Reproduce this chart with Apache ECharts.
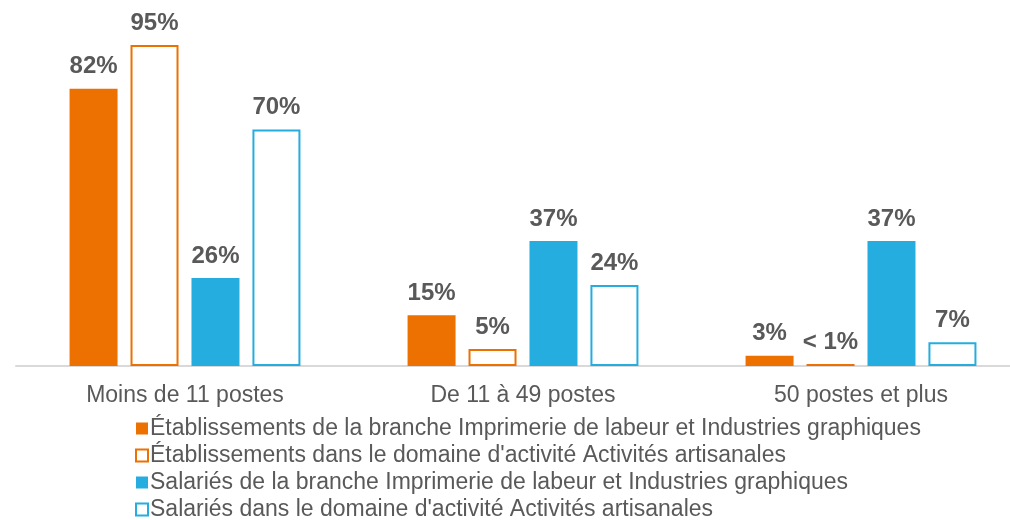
<!DOCTYPE html>
<html>
<head>
<meta charset="utf-8">
<script src="https://cdn.jsdelivr.net/npm/echarts@6/dist/echarts.min.js"></script>
<style>
html,body{margin:0;padding:0;background:#fff;}
#chart{width:1010px;height:520px;}
</style>
</head>
<body>
<div id="chart"></div>
<script>
const categories = ['Moins de 11 postes', 'De 11 à 49 postes', '50 postes et plus'];
const seriesNames = [
  "Établissements de la branche Imprimerie de labeur et Industries graphiques",
  "Établissements dans le domaine d'activité Activités artisanales",
  "Salariés de la branche Imprimerie de labeur et Industries graphiques",
  "Salariés dans le domaine d'activité Activités artisanales"
];
const etabBranche = [82, 15, 3];
const etabDomaine = [95, 5, 0.6];
const salBranche = [26, 37, 37];
const salDomaine = [70, 24, 7];
const etabBrancheLabels = ['82%', '15%', '3%'];
const etabDomaineLabels = ['95%', '5%', '< 1%'];
const salBrancheLabels = ['26%', '37%', '37%'];
const salDomaineLabels = ['70%', '24%', '7%'];

const ORANGE = '#ED7100';
const BLUE = '#25ADE0';
const TXT = '#595959';
const FONT = 'Liberation Sans, Arial, sans-serif';

function mk(name, data, labels, color, filled) {
  return {
    name: name,
    type: 'bar',
    data: data,
    barWidth: 48,
    barGap: '27%',
    itemStyle: filled ? { color: color } : { color: '#fff', borderColor: color, borderWidth: 2 },
    label: {
      show: true,
      position: 'top',
      distance: 10,
      formatter: p => labels[p.dataIndex],
      fontFamily: FONT,
      fontWeight: 'bold',
      fontSize: 24,
      color: TXT
    }
  };
}

const chart = echarts.init(document.getElementById('chart'));
chart.setOption({
  animation: false,
  grid: { left: 16, top: 28, width: 1014, height: 338, containLabel: false, outerBoundsMode: 'none' },
  xAxis: {
    type: 'category',
    data: categories,
    axisLine: { lineStyle: { color: '#d9d9d9', width: 2 } },
    axisTick: { show: false },
    axisLabel: { color: TXT, fontSize: 23, fontFamily: FONT, margin: 18 }
  },
  yAxis: { type: 'value', min: 0, max: 100, show: false, splitLine: { show: false } },
  legend: {
    orient: 'vertical',
    left: 135,
    top: 417,
    height: 130,
    icon: 'rect',
    itemWidth: 12,
    itemHeight: 12,
    itemGap: 4,
    padding: 0,
    textStyle: { color: TXT, fontSize: 23, fontFamily: FONT, padding: [0,0,0,-3] },
    data: seriesNames
  },
  series: [
    mk(seriesNames[0], etabBranche, etabBrancheLabels, ORANGE, true),
    mk(seriesNames[1], etabDomaine, etabDomaineLabels, ORANGE, false),
    mk(seriesNames[2], salBranche, salBrancheLabels, BLUE, true),
    mk(seriesNames[3], salDomaine, salDomaineLabels, BLUE, false)
  ]
});
</script>
</body>
</html>
